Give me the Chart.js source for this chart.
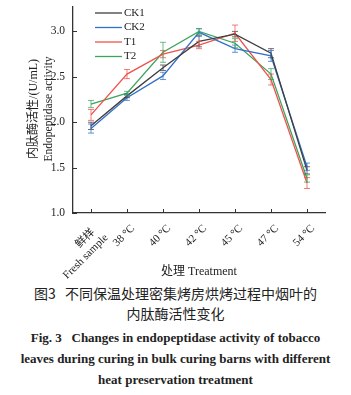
<!DOCTYPE html>
<html lang="zh">
<head>
<meta charset="UTF-8">
<title>内肽酶活性变化</title>
<script src="https://cdn.jsdelivr.net/npm/chart.js"></script>
<style>
    body { margin: 0; background: #fff; width: 351px; height: 395px; overflow: hidden; }
    #wrap { position: relative; width: 351px; height: 283px; }
    .cap { text-align: center; color: #222; white-space: nowrap; }
    .zh { font-family: 'Noto Sans CJK SC', sans-serif; font-size: 14px; height: 20px; line-height: 20px; }
    .en { font-family: 'Liberation Serif', serif; font-weight: bold; font-size: 13px; height: 21px; line-height: 21px; }
    .first { margin-top: 4px; }
</style>
</head>
<body>
<div id="wrap"><canvas id="chart"></canvas></div>
<div class="cap zh">图3&nbsp;&nbsp;&nbsp;不同保温处理密集烤房烘烤过程中烟叶的</div>
<div class="cap zh">内肽酶活性变化</div>
<div class="cap en first">Fig. 3&nbsp;&nbsp;&nbsp;Changes in endopeptidase activity of tobacco</div>
<div class="cap en">leaves during curing in bulk curing barns with different</div>
<div class="cap en">heat preservation treatment</div>

<script>
    // categories and tick labels
    const categories = [['鲜样  ', 'Fresh sample'], '38 °C', '40 °C', '42 °C', '45 °C', '47 °C', '54 °C'];
    const yTicks = [1.0, 1.5, 2.0, 2.5, 3.0];
    const yTitle = ['内肽酶活性/(U/mL)', 'Endopeptidase activity'];

    // series values (U/mL)
    const ck1 = [1.96, 2.29, 2.60, 2.89, 2.97, 2.76, 1.47];
    const ck2 = [1.93, 2.27, 2.51, 2.99, 2.81, 2.73, 1.51];
    const t1  = [2.08, 2.53, 2.75, 2.85, 2.98, 2.47, 1.33];
    const t2  = [2.20, 2.32, 2.77, 3.00, 2.87, 2.53, 1.38];

    // error bars (±)
    const ck1Err = [0.04, 0.02, 0.03, 0.06, 0.03, 0.05, 0.04];
    const ck2Err = [0.05, 0.03, 0.04, 0.04, 0.04, 0.06, 0.04];
    const t1Err  = [0.06, 0.05, 0.04, 0.04, 0.09, 0.06, 0.06];
    const t2Err  = [0.04, 0.02, 0.11, 0.03, 0.05, 0.06, 0.04];

    const colors = {
        CK1: '#3f3f3f',
        CK2: '#3470c8',
        T1: '#f0524c',
        T2: '#3ba55f'
    };

    const serif = "'Liberation Serif', 'Noto Sans CJK SC', serif";

    const errorBars = {
        id: 'errorBars',
        afterDatasetsDraw(chart) {
            const ctx = chart.ctx;
            const y = chart.scales.y;
            chart.data.datasets.forEach((ds, i) => {
                const meta = chart.getDatasetMeta(i);
                ctx.save();
                ctx.strokeStyle = ds.borderColor;
                ctx.globalAlpha = 0.75;
                ctx.lineWidth = 1;
                meta.data.forEach((pt, j) => {
                    const e = ds.errors[j];
                    const top = y.getPixelForValue(ds.data[j] + e);
                    const bot = y.getPixelForValue(ds.data[j] - e);
                    ctx.beginPath();
                    ctx.moveTo(pt.x, top); ctx.lineTo(pt.x, bot);
                    ctx.moveTo(pt.x - 3, top); ctx.lineTo(pt.x + 3, top);
                    ctx.moveTo(pt.x - 3, bot); ctx.lineTo(pt.x + 3, bot);
                    ctx.stroke();
                });
                ctx.restore();
            });
        }
    };

    // inward tick marks, y title and legend inside the plot
    const decorations = {
        id: 'decorations',
        afterDraw(chart) {
            const ctx = chart.ctx;
            const area = chart.chartArea;
            const x = chart.scales.x, y = chart.scales.y;
            ctx.save();
            ctx.strokeStyle = '#333';
            ctx.lineWidth = 1;
            ctx.beginPath();
            y.ticks.forEach(t => {
                const py = Math.round(y.getPixelForValue(t.value)) + 0.5;
                ctx.moveTo(area.left, py); ctx.lineTo(area.left + 4, py);
            });
            x.ticks.forEach((t, i) => {
                const px = Math.round(x.getPixelForValue(i)) + 0.5;
                ctx.moveTo(px, area.bottom); ctx.lineTo(px, area.bottom - 4);
            });
            ctx.stroke();

            // y axis title, two rotated lines
            ctx.fillStyle = '#222';
            ctx.textAlign = 'center';
            ctx.textBaseline = 'middle';
            const midY = (area.top + area.bottom) / 2 - 1;
            yTitle.forEach((line, i) => {
                ctx.save();
                ctx.translate(34 + i * 15, midY);
                ctx.rotate(-Math.PI / 2);
                ctx.font = (i === 0 ? '12px ' : '11.5px ') + serif;
                ctx.fillText(line, 0, 0);
                ctx.restore();
            });

            ctx.font = '11px ' + serif;
            ctx.textAlign = 'left';
            chart.data.datasets.forEach((ds, i) => {
                const ly = 13 + i * 14.5;
                ctx.strokeStyle = ds.borderColor;
                ctx.lineWidth = 1.3;
                ctx.beginPath();
                ctx.moveTo(area.left + 22, ly); ctx.lineTo(area.left + 49, ly);
                ctx.stroke();
                ctx.fillStyle = '#222';
                ctx.fillText(ds.label, area.left + 51, ly);
            });
            ctx.restore();
        }
    };

    function series(label, data, errors) {
        return {
            label: label,
            data: data,
            errors: errors,
            borderColor: colors[label],
            backgroundColor: colors[label],
            borderWidth: 1.3,
            pointRadius: 0,
            tension: 0
        };
    }

    new Chart(document.getElementById('chart'), {
        type: 'line',
        data: {
            labels: categories,
            datasets: [
                series('CK1', ck1, ck1Err),
                series('CK2', ck2, ck2Err),
                series('T1', t1, t1Err),
                series('T2', t2, t2Err)
            ]
        },
        options: {
            responsive: true,
            maintainAspectRatio: false,
            animation: false,
            layout: { padding: { top: -2, right: 26, left: 0, bottom: 0 } },
            plugins: { legend: { display: false }, tooltip: { enabled: false } },
            scales: {
                x: {
                    offset: true,
                    grid: { display: false },
                    border: { display: true, color: '#333', width: 1.3 },
                    ticks: {
                        color: '#222',
                        font: { family: serif, size: 11 },
                        autoSkip: false,
                        maxRotation: 45,
                        minRotation: 45,
                        labelOffset: 6,
                        padding: 1
                    },
                    title: {
                        display: true,
                        text: '处理 Treatment',
                        color: '#222',
                        font: { family: serif, size: 12 },
                        padding: { top: 0, bottom: 4 }
                    },
                    afterFit: s => { s.height = 70; }
                },
                y: {
                    min: 1,
                    max: 3.27,
                    grid: { display: false },
                    border: { display: true, color: '#333', width: 1.3 },
                    afterBuildTicks: s => { s.ticks = yTicks.map(v => ({ value: v })); },
                    ticks: {
                        color: '#222',
                        font: { family: serif, size: 11.5 },
                        padding: 0,
                        callback: v => v.toFixed(1)
                    },
                    afterFit: s => { s.width = 73; }
                }
            }
        },
        plugins: [errorBars, decorations]
    });
</script>
</body>
</html>
